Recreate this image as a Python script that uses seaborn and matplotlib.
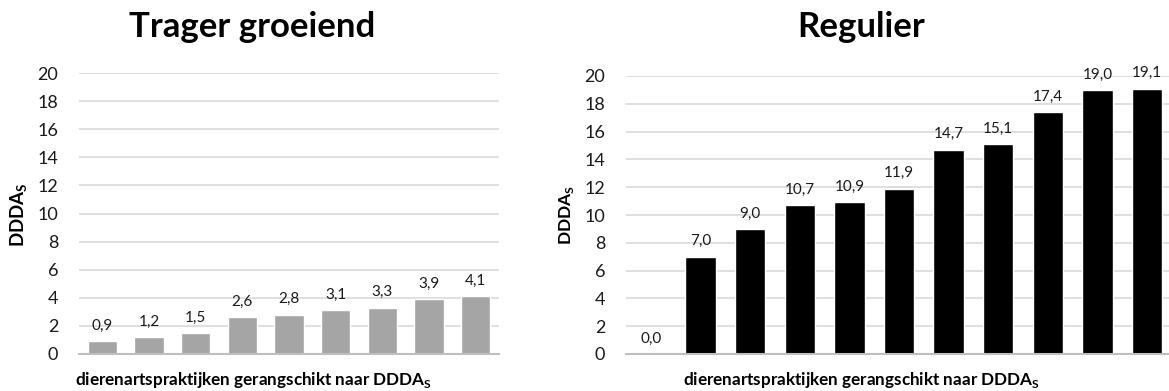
import matplotlib
matplotlib.use("Agg")
import matplotlib.pyplot as plt
import seaborn as sns
import pandas as pd

# Values per practice, ranked ascending
slow_growing = [0.9, 1.2, 1.5, 2.6, 2.8, 3.1, 3.3, 3.9, 4.1]
regular = [0.0, 7.0, 9.0, 10.7, 10.9, 11.9, 14.7, 15.1, 17.4, 19.0, 19.1]
titles = ["Trager groeiend", "Regulier"]
y_ticks = list(range(0, 21, 2))
x_title = r"dierenartspraktijken gerangschikt naar DDDA$_\mathbf{S}$"
y_title = r"DDDA$_\mathbf{S}$"

sns.set_theme(style="white")
plt.rcParams["font.family"] = ["Lato", "DejaVu Sans"]
plt.rcParams["mathtext.fontset"] = "custom"
plt.rcParams["mathtext.rm"] = "Lato"
plt.rcParams["mathtext.bf"] = "Lato:bold"

W, H = 1169, 391
fig = plt.figure(figsize=(W / 100, H / 100), dpi=100)


def px_axes(left, right, top, bottom):
    return fig.add_axes([left / W, 1 - bottom / H, (right - left) / W, (bottom - top) / H])


panels = [
    dict(values=slow_growing, color="#a5a5a5", box=(79, 499, 73, 354), width=0.63,
         title_x=252, ylab_x=19, ylab_size=13.5, xlab_x=253),
    dict(values=regular, color="#000000", box=(626, 1172, 76, 354), width=0.61,
         title_x=861, ylab_x=567, ylab_size=12.5, xlab_x=861),
]

for title, p in zip(titles, panels):
    ax = px_axes(*p["box"])
    df = pd.DataFrame({"rank": list(range(len(p["values"]))), "value": p["values"]})
    sns.barplot(data=df, x="rank", y="value", color=p["color"], width=p["width"],
                saturation=1, ax=ax)
    ax.set_ylim(0, 20)
    ax.set_yticks(y_ticks)
    ax.set_yticklabels([str(t) for t in y_ticks], fontsize=13, color="#1a1a1a")
    ax.set_xticks([])
    ax.set_xlabel("")
    ax.set_ylabel("")
    ax.tick_params(axis="y", length=0, pad=15)
    ax.grid(axis="y", color="#d9d9d9", linewidth=1.2)
    ax.set_axisbelow(True)
    for side in ("left", "right", "top"):
        ax.spines[side].set_visible(False)
    ax.spines["bottom"].set_color("#bfbfbf")
    ax.spines["bottom"].set_linewidth(1.5)
    ax.bar_label(ax.containers[0],
                 labels=[f"{v:.1f}".replace(".", ",") for v in p["values"]],
                 padding=6, fontsize=11, color="#1a1a1a")

    fig.text(p["title_x"] / W, 1 - 27 / H, title, fontsize=25, fontweight="bold",
             ha="center", va="center", color="#000000")
    fig.text(p["ylab_x"] / W, 1 - 215 / H, y_title, fontsize=p["ylab_size"],
             fontweight="bold", rotation=90, ha="center", va="center", color="#000000")
    fig.text(p["xlab_x"] / W, 1 - 380 / H, x_title, fontsize=12.3, fontweight="bold",
             ha="center", va="center", color="#000000")

fig.savefig("out.png", dpi=100, facecolor="white")
